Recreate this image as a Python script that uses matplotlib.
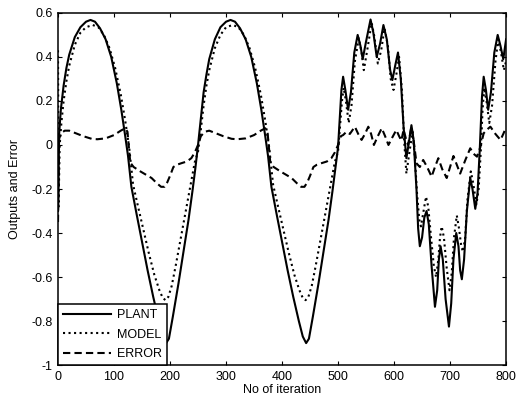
import numpy as np
from matplotlib import pyplot as plt

# ---- data ----
plant_iter = [0, 2, 5, 10, 15, 20, 30, 40, 50, 58, 66, 75, 85, 95, 105, 113, 120, 125, 131,
              140, 150, 160, 170, 180, 187, 193, 198, 205, 215, 225, 233, 240, 245, 250,
              255, 260, 265, 270, 280, 290, 300, 308, 316, 325, 335, 345, 355, 363, 370, 375, 381,
              390, 400, 410, 420, 430, 437, 443, 448, 455, 465, 475, 483, 490, 495, 500,
              503, 506, 509, 513, 518, 523, 529, 535, 540, 544, 550, 558, 563, 569, 575, 581,
              587, 593, 597, 602, 607, 612, 617, 622, 627, 631, 635, 640, 643, 646, 650, 654,
              658, 662, 667, 673, 677, 680, 683, 687, 692, 698, 702, 706, 711, 715, 718, 721,
              725, 730, 736, 740, 745, 749, 753, 757, 760, 764, 768, 773, 779, 785, 790, 795, 800]
plant_out = [-0.30, 0.05, 0.16, 0.27, 0.35, 0.41, 0.49, 0.535, 0.56, 0.568, 0.56, 0.53, 0.48, 0.40, 0.28, 0.16, 0.04, -0.05, -0.19,
             -0.31, -0.44, -0.57, -0.69, -0.80, -0.87, -0.90, -0.88, -0.78, -0.63, -0.47, -0.34, -0.21, -0.11, 0.0,
             0.12, 0.24, 0.32, 0.39, 0.48, 0.535, 0.56, 0.568, 0.56, 0.53, 0.48, 0.40, 0.28, 0.16, 0.04, -0.05, -0.19,
             -0.31, -0.44, -0.57, -0.69, -0.80, -0.87, -0.90, -0.88, -0.78, -0.63, -0.47, -0.34, -0.21, -0.11, -0.01,
             0.12, 0.25, 0.31, 0.25, 0.16, 0.24, 0.42, 0.50, 0.45, 0.39, 0.47, 0.57, 0.51, 0.40, 0.46, 0.545,
             0.48, 0.34, 0.295, 0.36, 0.42, 0.30, 0.08, -0.06, 0.02, 0.09, 0.02, -0.20, -0.38, -0.46, -0.42, -0.33,
             -0.30, -0.36, -0.55, -0.735, -0.66, -0.52, -0.46, -0.52, -0.70, -0.825, -0.72, -0.52, -0.40, -0.46, -0.57, -0.61,
             -0.52, -0.30, -0.15, -0.20, -0.29, -0.22, -0.02, 0.22, 0.31, 0.25, 0.16, 0.24, 0.42, 0.50, 0.45, 0.39, 0.48]

model_iter = [0, 1, 3, 6, 10, 15, 20, 30, 40, 50, 62, 72, 82, 92, 102, 112, 120, 127, 134,
              142, 152, 162, 172, 181, 187, 192, 197, 203, 210, 218, 228, 237, 244, 250,
              255, 260, 265, 270, 280, 290, 300, 312, 322, 332, 342, 352, 362, 370, 377, 384,
              392, 402, 412, 422, 431, 437, 442, 447, 453, 460, 468, 478, 487, 494, 500,
              504, 507, 510, 514, 519, 524, 530, 537, 542, 546, 552, 560, 565, 571, 577, 583,
              589, 594, 599, 604, 609, 614, 618, 622, 627, 633, 637, 641, 645, 648, 652, 657,
              661, 666, 671, 675, 679, 682, 685, 689, 694, 699, 703, 707, 712, 716, 720, 723,
              727, 731, 737, 741, 747, 751, 755, 758, 761, 765, 770, 775, 781, 786, 791, 796, 800]
model_out = [0.43, -0.28, 0.0, 0.10, 0.20, 0.29, 0.36, 0.455, 0.51, 0.535, 0.545, 0.535, 0.50, 0.44, 0.35, 0.23, 0.11, -0.01, -0.18,
             -0.27, -0.38, -0.49, -0.59, -0.66, -0.695, -0.705, -0.69, -0.64, -0.55, -0.44, -0.30, -0.18, -0.08, -0.03,
             0.07, 0.18, 0.27, 0.34, 0.44, 0.50, 0.535, 0.545, 0.535, 0.50, 0.44, 0.35, 0.23, 0.11, -0.01, -0.18,
             -0.27, -0.38, -0.49, -0.59, -0.66, -0.695, -0.705, -0.69, -0.64, -0.55, -0.44, -0.30, -0.18, -0.08, -0.03,
             0.10, 0.20, 0.26, 0.20, 0.10, 0.18, 0.38, 0.485, 0.42, 0.34, 0.43, 0.555, 0.49, 0.37, 0.43, 0.53,
             0.45, 0.30, 0.25, 0.32, 0.40, 0.25, 0.02, -0.13, -0.04, 0.06, -0.05, -0.22, -0.34, -0.37, -0.31, -0.235,
             -0.28, -0.42, -0.55, -0.60, -0.52, -0.42, -0.37, -0.42, -0.56, -0.66, -0.58, -0.42, -0.32, -0.38, -0.46, -0.485,
             -0.42, -0.25, -0.12, -0.17, -0.27, -0.20, -0.02, 0.16, 0.26, 0.20, 0.10, 0.18, 0.38, 0.48, 0.42, 0.34, 0.38]

error_iter = [0, 2, 6, 12, 20, 30, 45, 60, 70, 85, 100, 112, 120, 124, 129, 135, 147, 157, 167, 177, 184, 190,
              195, 200, 206, 212, 220, 230, 238, 244, 250,
              255, 262, 270, 280, 295, 310, 320, 335, 350, 362, 370, 374, 379, 385, 397, 407, 417, 427, 434, 440,
              445, 450, 456, 462, 470, 480, 488, 494, 500,
              505, 509, 515, 521, 530, 536, 542, 548, 554, 559, 564, 571, 578, 584, 590, 597, 604, 609, 613, 617,
              621, 625, 631, 636, 640, 646, 652, 659, 667, 673, 679, 686, 694, 700, 706, 712, 718, 727, 736, 742,
              748, 754, 760, 766, 772, 781, 790, 795, 800]
error_out = [-0.35, 0.03, 0.055, 0.065, 0.065, 0.055, 0.04, 0.028, 0.026, 0.03, 0.045, 0.065, 0.076, 0.06, -0.08, -0.10, -0.12, -0.135, -0.15, -0.175, -0.19, -0.19,
             -0.17, -0.14, -0.10, -0.09, -0.083, -0.075, -0.06, -0.035, 0.0,
             0.04, 0.06, 0.065, 0.055, 0.04, 0.028, 0.026, 0.03, 0.045, 0.065, 0.076, 0.06, -0.08, -0.10, -0.12, -0.135, -0.15, -0.175, -0.19, -0.19,
             -0.17, -0.14, -0.10, -0.09, -0.083, -0.075, -0.06, -0.035, 0.0,
             0.04, 0.045, 0.06, 0.05, 0.083, 0.05, 0.023, 0.05, 0.083, 0.05, 0.0, 0.04, 0.076, 0.04, 0.0, 0.035, 0.068, 0.04, 0.02, 0.07,
             0.03, 0.0, 0.083, 0.0, -0.083, -0.10, -0.068, -0.10, -0.144, -0.10, -0.06, -0.11, -0.15, -0.10, -0.05, -0.09, -0.13, -0.07, -0.015, -0.04,
             -0.053, -0.01, 0.053, 0.07, 0.083, 0.05, 0.023, 0.05, 0.08]

x_ticks = [0, 100, 200, 300, 400, 500, 600, 700, 800]
y_ticks = [-1, -0.8, -0.6, -0.4, -0.2, 0, 0.2, 0.4, 0.6]
y_tick_labels = ['-1', '-0.8', '-0.6', '-0.4', '-0.2', '0', '0.2', '0.4', '0.6']

plt.rcParams['font.family'] = ['Liberation Sans', 'DejaVu Sans']
plt.rcParams['axes.unicode_minus'] = False

fig = plt.figure(figsize=(5.18, 4.03), dpi=100)
ax = fig.add_axes([0.112, 0.094, 0.865, 0.874])

ax.plot(plant_iter, plant_out, color='black', lw=1.5, ls='-', label='PLANT')
ax.plot(model_iter, model_out, color='black', lw=1.5, ls=':', label='MODEL')
ax.plot(error_iter, error_out, color='black', lw=1.5, ls='--', dashes=(3.5, 2), label='ERROR')

ax.set_xlim(0, 800)
ax.set_ylim(-1, 0.6)
ax.set_xticks(x_ticks)
ax.set_xticklabels([str(t) for t in x_ticks])
ax.set_yticks(y_ticks)
ax.set_yticklabels(y_tick_labels)
ax.tick_params(direction='in', top=True, right=True, length=3, width=0.8, labelsize=9, pad=4)
for s in ax.spines.values():
    s.set_linewidth(1.1)

ax.set_xlabel('No of iteration', fontsize=9, labelpad=1)
ax.set_ylabel('Outputs and Error', fontsize=9, labelpad=7)

leg = ax.legend(loc='lower left', bbox_to_anchor=(0, 0), borderaxespad=0, fontsize=9,
                fancybox=False, edgecolor='black', framealpha=1, handlelength=3.8,
                labelspacing=0.6, borderpad=0.4, handletextpad=0.5)
leg.get_frame().set_linewidth(1.1)

fig.savefig('out.png', dpi=100)
